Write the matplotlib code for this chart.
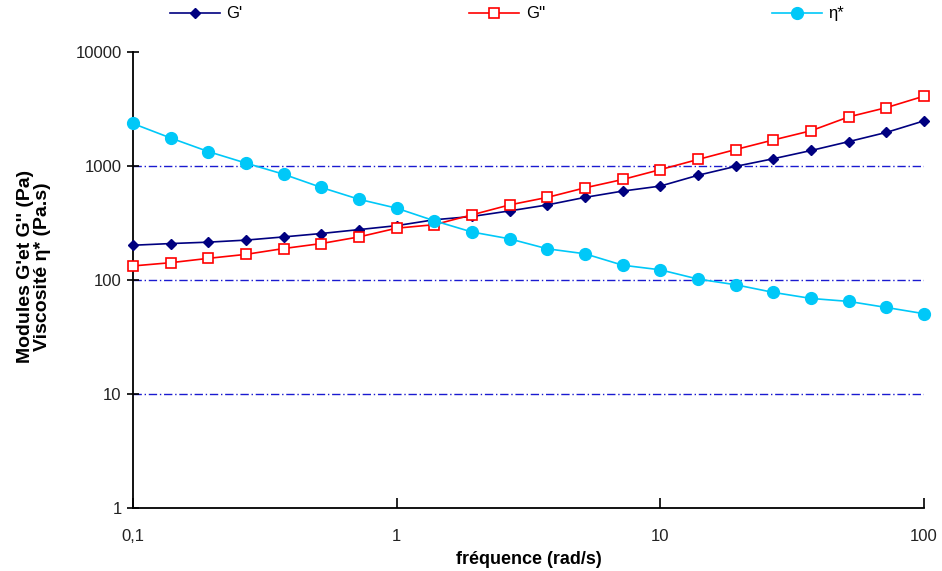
import numpy as np
import matplotlib
matplotlib.use("Agg")
import matplotlib.pyplot as plt

plt.rcParams['font.family'] = ['Liberation Sans', 'DejaVu Sans']

freq = [0.1, 0.139, 0.193, 0.268, 0.373, 0.518, 0.72, 1.0, 1.39, 1.93, 2.68,
        3.73, 5.18, 7.2, 10.0, 13.9, 19.3, 26.8, 37.3, 51.8, 72.0, 100.0]
g_prime = [202, 209, 215, 224, 239, 256, 277, 300, 338, 361, 404,
           456, 531, 603, 667, 830, 993, 1158, 1368, 1637, 1972, 2490]
g_second = [133, 142, 155, 168, 189, 209, 239, 285, 306, 373, 456,
            531, 644, 762, 930, 1142, 1395, 1692, 2039, 2697, 3252, 4103]
eta = [2360, 1762, 1340, 1062, 847, 649, 511, 427, 331, 264, 230,
       188, 170, 135, 123, 102, 91, 78, 69, 65, 57.5, 50.7]

xticks = [0.1, 1, 10, 100]
xticklabels = ["0,1", "1", "10", "100"]
yticks = [1, 10, 100, 1000, 10000]
yticklabels = ["1", "10", "100", "1000", "10000"]
gridvals = [10, 100, 1000]

fig = plt.figure(figsize=(9.42, 5.71), dpi=100)
ax = fig.add_axes([0.141, 0.110, 0.840, 0.799])
ax.set_xscale('log')
ax.set_yscale('log')
ax.set_xlim(0.1, 100)
ax.set_ylim(1, 10000)

for g in gridvals:
    ax.axhline(g, color='#1a1ad0', lw=1.0, ls=(0, (6, 2, 1, 2)), zorder=1)

l1, = ax.plot(freq, g_prime, color='#000080', lw=1.2, marker='D', ms=5.5,
              mfc='#000080', mec='#000080', label="G'", zorder=3, clip_on=False)
l2, = ax.plot(freq, g_second, color='#ff0000', lw=1.2, marker='s', ms=7,
              mfc='white', mec='#ff0000', mew=1.2, label="G''", zorder=3, clip_on=False)
l3, = ax.plot(freq, eta, color='#00c8f8', lw=1.2, marker='o', ms=8.5,
              mfc='#00c8f8', mec='#00c8f8', label="η*", zorder=4, clip_on=False)

ax.spines['top'].set_visible(False)
ax.spines['right'].set_visible(False)
ax.spines['left'].set_linewidth(1.3)
ax.spines['bottom'].set_linewidth(1.3)

ax.set_xticks(xticks)
ax.set_xticklabels(xticklabels, fontsize=12, color='#222222')
ax.set_yticks(yticks)
ax.set_yticklabels(yticklabels, fontsize=12, color='#222222')
ax.minorticks_off()
ax.tick_params(axis='y', direction='inout', length=8, width=1.2, pad=4)
ax.tick_params(axis='x', direction='in', length=7, width=1.2, pad=15)

ax.set_xlabel("fréquence (rad/s)", fontsize=13, fontweight='bold', labelpad=5)
ax.set_ylabel("Modules G'et G'' (Pa)\nViscosité η* (Pa.s)", fontsize=14,
              fontweight='bold', labelpad=12, linespacing=1.0)
ax.yaxis.set_label_coords(-0.103, 0.53)

leg = fig.legend(handles=[l1, l2, l3], loc='upper center', ncol=3,
                 bbox_to_anchor=(0.538, 1.015), frameon=False, fontsize=12,
                 columnspacing=13.6, handlelength=3, handletextpad=0.4)

fig.savefig("out.png", dpi=100)
